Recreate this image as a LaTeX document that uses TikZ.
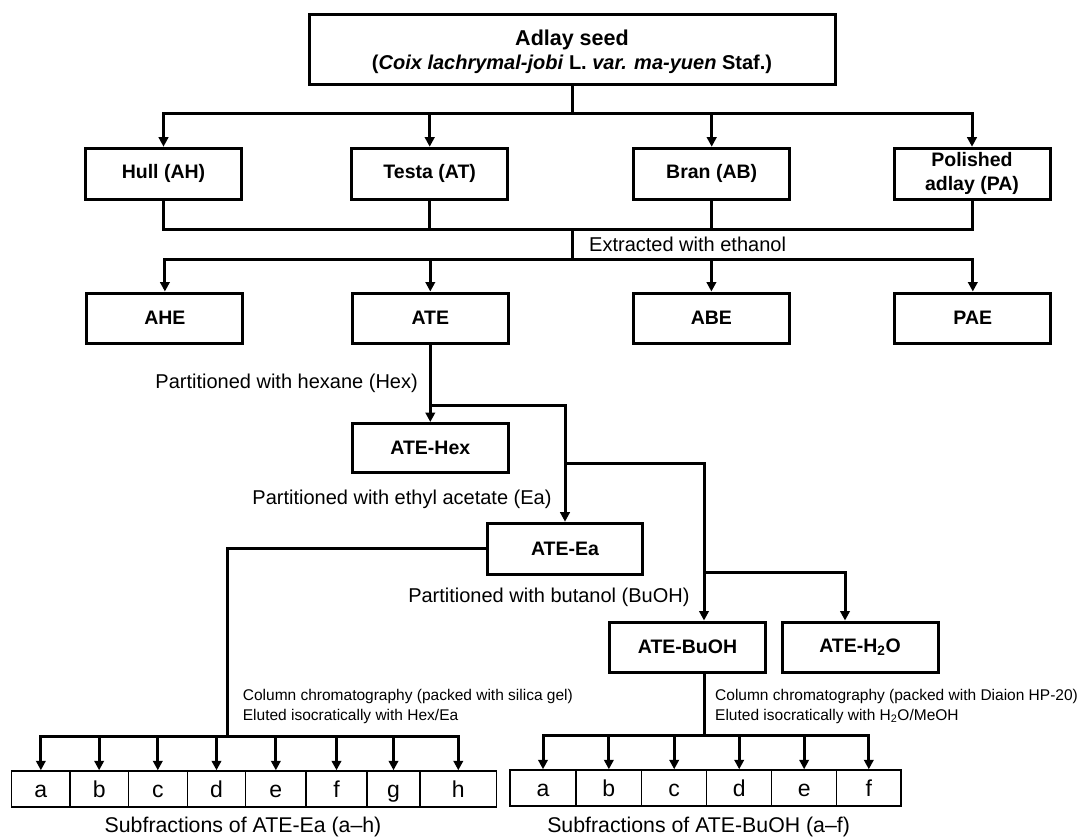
\documentclass[tikz,border=0pt]{standalone}
\usepackage{fontspec}
\setmainfont{Liberation Sans}
\usetikzlibrary{arrows.meta}
\begin{document}
\begin{tikzpicture}[x=1pt,y=-1pt,
  conn/.style={line width=3pt},
  arr/.style={line width=3pt,-{Triangle[width=9.5pt,length=9.5pt]}},
  bx/.style={draw,line width=3pt,minimum width=156pt,minimum height=50pt,inner sep=0pt,align=center,font=\bfseries\fontsize{19.5}{21}\selectfont},
  lbl/.style={inner sep=0pt,font=\fontsize{20}{24}\selectfont},
  cc/.style={inner sep=0pt,font=\fontsize{15.5}{18}\selectfont},
  cell/.style={draw,line width=1.5pt,minimum height=36pt,inner sep=0pt,text height=16.5pt,text depth=0pt,font=\fontsize{23}{26}\selectfont},
  capt/.style={inner sep=0pt,font=\fontsize{21.3}{24}\selectfont}]
\useasboundingbox (0,0) rectangle (1083,836);

% boxes
\node[bx,minimum width=526pt,minimum height=70pt,font=\bfseries\fontsize{20}{21}\selectfont] (Adlay) at (572,49)
  {\rule{0pt}{22pt}{\fontsize{21.5}{21}\selectfont Adlay seed}\\[3pt](\textit{Coix lachrymal-jobi} L. \textit{var. ma-yuen} Staf.)};
\node[bx,minimum height=51pt] (Hull) at (163.5,173.7) {Hull (AH)};
\node[bx,minimum height=51pt] (Testa) at (429.7,173.7) {Testa (AT)};
\node[bx,minimum height=51pt] (Bran) at (711.7,173.7) {Bran (AB)};
\node[bx,minimum height=51pt] (Polished) at (972,173.7) {Polished\\[3pt]adlay (PA)};
\node[bx] (AHE) at (164.9,318) {AHE};
\node[bx] (ATE) at (430.3,318) {ATE};
\node[bx] (ABE) at (711.4,318) {ABE};
\node[bx] (PAE) at (972.8,318) {PAE};
\node[bx,minimum height=49pt] (Hex) at (430.3,448) {ATE-Hex};
\node[bx,minimum width=155pt,minimum height=51pt] (Ea) at (565,548.7) {ATE-Ea};
\node[bx] (BuOH) at (687.5,647) {ATE-BuOH};
\node[bx] (H2O) at (860,647) {ATE-H\textsubscript{2}O};

% labels
\node[lbl,anchor=base west] (lExt) at (589,251) {Extracted with ethanol};
\node[lbl,anchor=base east] (lHex) at (418,388) {Partitioned with hexane (Hex)};
\node[lbl,anchor=base east] (lEa) at (551.7,504) {Partitioned with ethyl acetate (Ea)};
\node[lbl,anchor=base east] (lBu) at (689.7,602) {Partitioned with butanol (BuOH)};
\node[cc,anchor=base west] (cL1) at (242.7,700) {Column chromatography (packed with silica gel)};
\node[cc,anchor=base west] (cL2) at (242.7,720) {Eluted isocratically with Hex/Ea};
\node[cc,anchor=base west] (cR1) at (715,700) {Column chromatography (packed with Diaion HP-20)};
\node[cc,anchor=base west] (cR2) at (715,720) {Eluted isocratically with H\textsubscript{2}O/MeOH};

% strips
\node[cell,minimum width=58.3pt] (La) at (40.85,789) {a};
\node[cell,minimum width=58.3pt] (Lb) at (99.15,789) {b};
\node[cell,minimum width=59pt] (Lc) at (157.8,789) {c};
\node[cell,minimum width=58.4pt] (Ld) at (216.5,789) {d};
\node[cell,minimum width=60.3pt] (Le) at (275.85,789) {e};
\node[cell,minimum width=61pt] (Lf) at (336.5,789) {f};
\node[cell,minimum width=53pt] (Lg) at (393.5,789) {g};
\node[cell,minimum width=76.6pt] (Lh) at (458.3,789) {h};

\node[cell,minimum width=66pt] (Ra) at (543,788) {a};
\node[cell,minimum width=65.7pt] (Rb) at (608.85,788) {b};
\node[cell,minimum width=65pt] (Rc) at (674.2,788) {c};
\node[cell,minimum width=65pt] (Rd) at (739.2,788) {d};
\node[cell,minimum width=64.9pt] (Re) at (804.15,788) {e};
\node[cell,minimum width=64.4pt] (Rf) at (868.8,788) {f};

\node[capt,anchor=base] (capL) at (243,832) {Subfractions of ATE-Ea (a–h)};
\node[capt,anchor=base] (capR) at (698.6,832) {Subfractions of ATE-BuOH (a–f)};

% connectors
\coordinate (j1) at (572,113);
\draw[conn] (Adlay.south) -- (j1);
\draw[conn,line cap=rect] (Hull.north |- j1) -- (Polished.north |- j1);
\foreach \n in {Hull,Testa,Bran,Polished} \draw[arr] (\n.north |- j1) -- (\n.north);

\coordinate (j2) at (572,229);
\coordinate (j3) at (572,259);
\foreach \n in {Hull,Testa,Bran,Polished} \draw[conn] (\n.south) -- (\n.south |- j2);
\draw[conn,line cap=rect] (Hull.south |- j2) -- (Polished.south |- j2);
\draw[conn] (j2) -- (j3);
\draw[conn,line cap=rect] (AHE.north |- j3) -- (PAE.north |- j3);
\foreach \n in {AHE,ATE,ABE,PAE} \draw[arr] (\n.north |- j3) -- (\n.north);

\coordinate (j4) at (430.3,405);
\draw[conn] (ATE.south) -- (j4);
\draw[arr] (j4) -- (Hex.north);
\draw[arr] (j4) -| (Ea.north);
\coordinate (j5) at (565,463);
\coordinate (bt) at (704,622);
\draw[arr] (j5) -| (BuOH.north -| bt);
\coordinate (j6) at (704,572);
\coordinate (ht) at (845,622);
\draw[arr] (j6) -| (H2O.north -| ht);

\coordinate (j7) at (227.6,736);
\draw[conn] (Ea.west) -| (j7);
\draw[conn,line cap=rect] (La.north |- j7) -- (Lh.north |- j7);
\foreach \n in {La,Lb,Lc,Ld,Le,Lf,Lg,Lh} \draw[arr] (\n.north |- j7) -- (\n.north);

\coordinate (j8) at (704,735);
\draw[conn] (BuOH.south -| j8) -- (j8);
\draw[conn,line cap=rect] (Ra.north |- j8) -- (Rf.north |- j8);
\foreach \n in {Ra,Rb,Rc,Rd,Re,Rf} \draw[arr] (\n.north |- j8) -- (\n.north);
\end{tikzpicture}
\end{document}
